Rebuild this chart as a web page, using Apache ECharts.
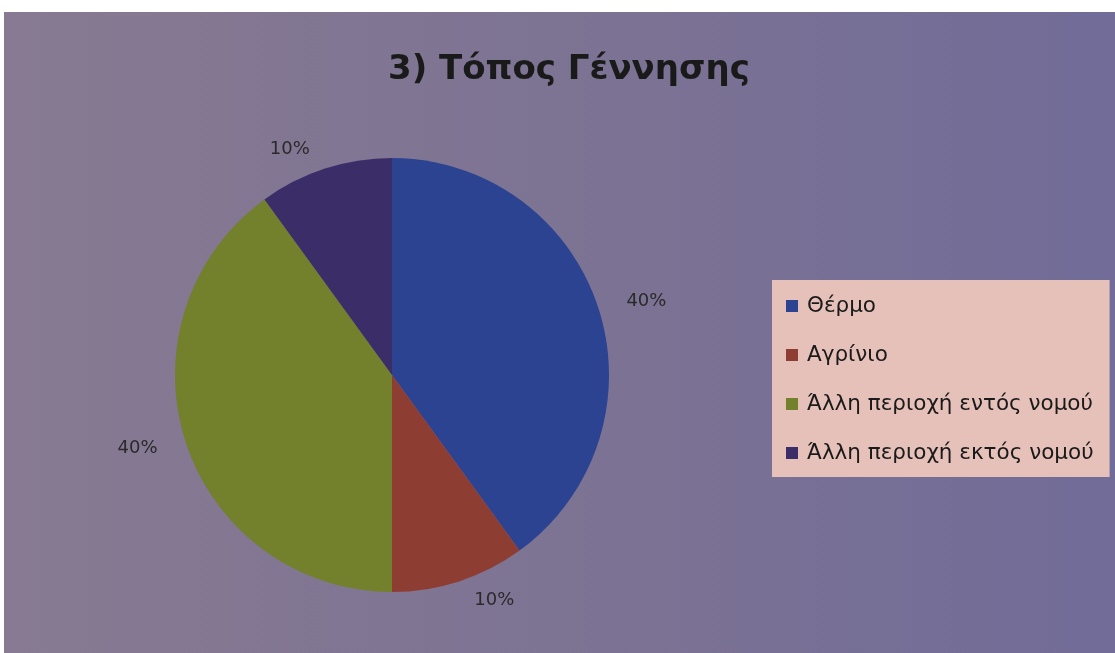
<!DOCTYPE html>
<html>
<head>
<meta charset="utf-8">
<script src="https://cdn.jsdelivr.net/npm/echarts@6/dist/echarts.min.js"></script>
<style>
  html, body { margin: 0; padding: 0; background: #fff; }
  #chart {
    position: absolute;
    left: 4px;
    top: 12px;
    width: 1111px;
    height: 641px;
  }
</style>
</head>
<body>
<div id="chart"></div>
<script>
// data
var places = ['Θέρμο', 'Αγρίνιο', 'Άλλη περιοχή εντός νομού', 'Άλλη περιοχή εκτός νομού'];
var shares = [40, 10, 40, 10];
var sliceColors = ['#2b4390', '#8e3d33', '#73802c', '#3b2d68'];

var chartDom = document.getElementById('chart');
var myChart = echarts.init(chartDom);
var option;

const seriesdata = places.map(function (name, i) {
  return { name: name, value: shares[i], itemStyle: { color: sliceColors[i] } };
});

option = {
  animation: false,
  backgroundColor: {
    type: 'linear', x: 0, y: 0, x2: 1, y2: 0,
    colorStops: [
      { offset: 0, color: '#877a92' },
      { offset: 0.5, color: '#7d7393' },
      { offset: 1, color: '#716c98' }
    ]
  },
  title: {
    text: '3) Τόπος Γέννησης',
    left: 379,
    top: 36,
    textStyle: {
      fontFamily: 'DejaVu Sans',
      fontSize: 34,
      fontWeight: 'bold',
      color: '#1a1a1a'
    }
  },
  legend: {
    orient: 'vertical',
    left: 768,
    top: 268,
    backgroundColor: '#e6c1b9',
    padding: [15, 16, 13, 14],
    itemGap: 27,
    icon: 'rect',
    itemWidth: 12,
    itemHeight: 12,
    data: places,
    textStyle: {
      fontFamily: 'DejaVu Sans',
      fontSize: 21.5,
      color: '#1a1a1a',
      padding: [0, 0, 0, 4]
    }
  },
  series: [
    {
      name: 'Τόπος Γέννησης',
      type: 'pie',
      radius: 217,
      center: [388, 363],
      startAngle: 90,
      clockwise: true,
      data: seriesdata,
      label: {
        show: true,
        position: 'outside',
        formatter: '{d}%',
        fontFamily: 'DejaVu Sans',
        fontSize: 18,
        color: '#2a2a2a'
      },
      labelLine: {
        show: false,
        length: 20,
        length2: 4
      }
    }
  ]
};

myChart.setOption(option);
</script>
</body>
</html>
